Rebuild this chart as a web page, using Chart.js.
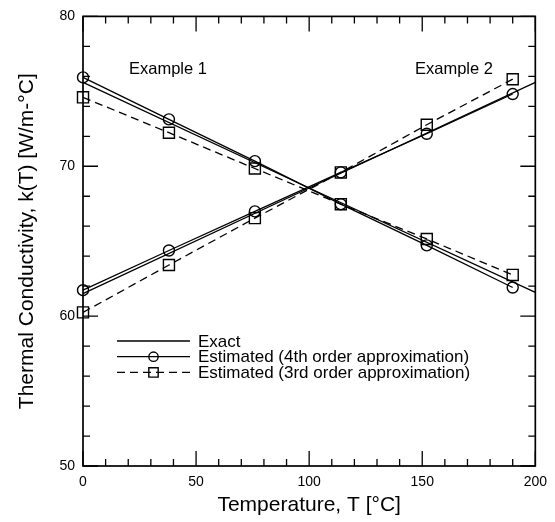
<!DOCTYPE html>
<html>
<head>
<meta charset="utf-8">
<script src="https://cdn.jsdelivr.net/npm/chart.js@4.4.1/dist/chart.umd.min.js"></script>
<style>
  html, body { margin: 0; padding: 0; background: #fff; }
  #wrap { width: 555px; height: 522px; position: relative; }
</style>
</head>
<body>
<div id="wrap"><canvas id="chart" width="555" height="522"></canvas></div>
<script>
// sample temperatures of the estimates [°C]
const tEst = [0, 38, 76, 114, 152, 190];
// exact curve sample temperatures
const tExact = [0, 100, 200];

// Example 1 (k falls with T)
const exact1 = [75.6, 68.55, 61.58];
const est4th1 = [75.93, 73.13, 70.34, 67.47, 64.72, 61.91];
const est3rd1 = [74.6, 72.24, 69.85, 67.47, 65.15, 62.75];

// Example 2 (k rises with T)
const exact2 = [61.5, 68.55, 75.6];
const est4th2 = [61.73, 64.38, 66.99, 69.59, 72.17, 74.82];
const est3rd2 = [60.25, 63.41, 66.54, 69.59, 72.77, 75.81];

const xTicks = [0, 50, 100, 150, 200];
const yTicks = [50, 60, 70, 80];

const legendLabels = ['Exact', 'Estimated (4th order approximation)', 'Estimated (3rd order approximation)'];
const notes = [
  { text: 'Example 1', x: 129, y: 69 },
  { text: 'Example 2', x: 415, y: 69 }
];

const FONT = '"Liberation Sans", Arial, sans-serif';
const pts = (xs, ys) => xs.map((x, i) => ({ x, y: ys[i] }));

const exactStyle = { borderWidth: 1.3, borderDash: [], pointRadius: 0 };
const circleStyle = { borderWidth: 1.3, borderDash: [], pointStyle: 'circle', pointRadius: 5.5, pointBorderWidth: 1.4 };
const squareStyle = { borderWidth: 1.3, borderDash: [8, 5], pointStyle: 'rect', pointRadius: 7.8, pointBorderWidth: 1.4 };

function line(label, data, style) {
  return Object.assign({
    label, data, borderColor: '#000', backgroundColor: 'transparent',
    pointBorderColor: '#000', pointBackgroundColor: 'transparent',
    tension: 0, fill: false, clip: false
  }, style);
}

const datasets = [
  line(legendLabels[0], pts(tExact, exact1), exactStyle),
  line(legendLabels[0], pts(tExact, exact2), exactStyle),
  line(legendLabels[1], pts(tEst, est4th1), circleStyle),
  line(legendLabels[1], pts(tEst, est4th2), circleStyle),
  line(legendLabels[2], pts(tEst, est3rd1), squareStyle),
  line(legendLabels[2], pts(tEst, est3rd2), squareStyle)
];
const legendStyles = [exactStyle, circleStyle, squareStyle];

// box with inward ticks on all four sides, notes and legend
const frame = {
  id: 'frame',
  afterDatasetsDraw(chart) {
    const { ctx, chartArea: a, scales: { x, y } } = chart;
    ctx.save();
    ctx.strokeStyle = '#000';
    ctx.lineWidth = 1.7;
    ctx.strokeRect(a.left, a.top, a.right - a.left, a.bottom - a.top);
    ctx.lineWidth = 1.3;
    ctx.beginPath();
    for (let v = x.min; v <= x.max; v += 10) {
      const px = x.getPixelForValue(v);
      const len = v % 50 === 0 ? 15 : 7;
      ctx.moveTo(px, a.bottom); ctx.lineTo(px, a.bottom - len);
      ctx.moveTo(px, a.top); ctx.lineTo(px, a.top + len);
    }
    for (let v = y.min; v <= y.max; v += 2) {
      const py = y.getPixelForValue(v);
      const len = v % 10 === 0 ? 15 : 7;
      ctx.moveTo(a.left, py); ctx.lineTo(a.left + len, py);
      ctx.moveTo(a.right, py); ctx.lineTo(a.right - len, py);
    }
    ctx.stroke();

    ctx.fillStyle = '#000';
    ctx.textBaseline = 'middle';
    ctx.font = '16.5px ' + FONT;
    notes.forEach(n => ctx.fillText(n.text, n.x, n.y));

    const lx = 117, lw = 73, ly = 341, gap = 15.7;
    ctx.font = '17px ' + FONT;
    legendStyles.forEach((st, i) => {
      const yy = ly + i * gap;
      ctx.strokeStyle = '#000';
      ctx.setLineDash(st.borderDash);
      ctx.lineWidth = st.borderWidth;
      ctx.beginPath();
      ctx.moveTo(lx, yy); ctx.lineTo(lx + lw, yy);
      ctx.stroke();
      ctx.setLineDash([]);
      if (st.pointRadius) {
        ctx.fillStyle = 'rgba(0,0,0,0)';
        ctx.lineWidth = st.pointBorderWidth;
        Chart.helpers.drawPoint(ctx, {
          pointStyle: st.pointStyle, rotation: 0,
          radius: st.pointRadius * 0.85, borderWidth: st.pointBorderWidth
        }, lx + lw / 2, yy);
      }
      ctx.fillStyle = '#000';
      ctx.fillText(legendLabels[i], lx + lw + 8, yy + 1);
    });
    ctx.restore();
  }
};

const tickFont = { family: FONT, size: 14 };
const titleFont = { family: FONT, size: 21 };

new Chart(document.getElementById('chart').getContext('2d'), {
  type: 'line',
  data: { datasets },
  options: {
    responsive: false, animation: false,
    layout: { padding: { top: 11.5, right: 14.5, left: 0, bottom: 0 } },
    plugins: { legend: { display: false }, tooltip: { enabled: false } },
    scales: {
      x: {
        type: 'linear', min: 0, max: 200,
        afterBuildTicks: s => { s.ticks = xTicks.map(value => ({ value })); },
        afterFit: s => { s.height = 56; },
        grid: { display: false, drawTicks: false },
        border: { display: false },
        ticks: { color: '#000', font: tickFont, padding: 8, maxRotation: 0 },
        title: { display: true, text: 'Temperature, T [°C]', color: '#000', font: titleFont, padding: { top: 2 } }
      },
      y: {
        type: 'linear', min: 50, max: 80,
        afterBuildTicks: s => { s.ticks = yTicks.map(value => ({ value })); },
        afterFit: s => { s.width = 83; },
        grid: { display: false, drawTicks: false },
        border: { display: false },
        ticks: { color: '#000', font: tickFont, padding: 8 },
        title: { display: true, text: 'Thermal Conductivity, k(T) [W/m-°C]', color: '#000', font: titleFont, padding: { top: 15 } }
      }
    }
  },
  plugins: [frame]
});
</script>
</body>
</html>
